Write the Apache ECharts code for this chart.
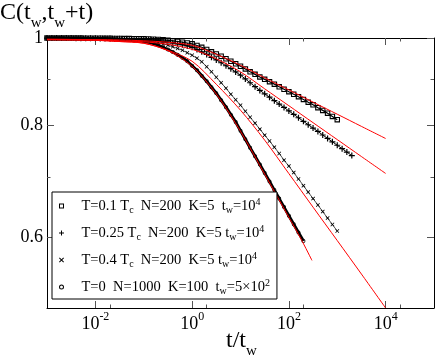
<!DOCTYPE html>
<html>
<head>
<meta charset="utf-8">
<script src="https://cdn.jsdelivr.net/npm/echarts@6/dist/echarts.min.js"></script>
<style>
  html, body { margin: 0; padding: 0; background: #fff; }
  #chart { width: 436px; height: 361px; }
</style>
</head>
<body>
<div id="chart"></div>
<script>
// t/t_w sample times, shared by the four data sets
const times = [
  0.001, 0.00126, 0.00158, 0.002, 0.00251, 0.00316, 0.00398, 0.00501, 0.00631, 0.00794,
  0.01, 0.0126, 0.0158, 0.02, 0.0251, 0.0316, 0.0398, 0.0501, 0.0631, 0.0794,
  0.1, 0.126, 0.158, 0.2, 0.251, 0.316, 0.398, 0.501, 0.631, 0.794,
  1, 1.26, 1.58, 2, 2.51, 3.16, 3.98, 5.01, 6.31, 7.94,
  10, 12.6, 15.8, 20, 25.1, 31.6, 39.8, 50.1, 63.1, 79.4,
  100, 126, 158, 200, 251, 316, 398, 501, 631, 794,
  1000, 1260, 1580, 2000
];

// T=0.1 Tc (squares)
const c01 = [
  0.9999, 0.9999, 0.9999, 0.9998, 0.9998, 0.9998, 0.9997, 0.9997, 0.9996, 0.9995,
  0.9994, 0.9993, 0.9992, 0.9991, 0.999, 0.9988, 0.9986, 0.9985, 0.9983, 0.9981,
  0.9979, 0.9974, 0.9969, 0.9962, 0.9954, 0.9941, 0.9928, 0.9911, 0.9893, 0.9873,
  0.9852, 0.9809, 0.9764, 0.9709, 0.9652, 0.9598, 0.9542, 0.9481, 0.942, 0.936,
  0.93, 0.9236, 0.917, 0.9109, 0.9048, 0.8993, 0.8939, 0.8883, 0.8824, 0.8767,
  0.8712, 0.8655, 0.8601, 0.8541, 0.8481, 0.8424, 0.8362, 0.8304, 0.8244, 0.8177,
  0.8108
];
// T=0.25 Tc (plus)
const c025 = [
  0.9999, 0.9999, 0.9998, 0.9998, 0.9997, 0.9997, 0.9996, 0.9995, 0.9994, 0.9993,
  0.9992, 0.999, 0.9988, 0.9986, 0.9983, 0.998, 0.9977, 0.9975, 0.9972, 0.997,
  0.9967, 0.9956, 0.9946, 0.9934, 0.9916, 0.9898, 0.9878, 0.9852, 0.9827, 0.9797,
  0.9764, 0.9709, 0.9652, 0.9586, 0.9517, 0.9452, 0.9384, 0.9312, 0.9242, 0.9166,
  0.9089, 0.9002, 0.8915, 0.8826, 0.8741, 0.8665, 0.859, 0.8514, 0.844, 0.8368,
  0.8292, 0.822, 0.8149, 0.8074, 0.8004, 0.7935, 0.7868, 0.7796, 0.7728, 0.7661,
  0.7593, 0.7527, 0.7462, 0.7395
];
// T=0.4 Tc (cross)
const c04 = [
  0.9998, 0.9998, 0.9997, 0.9997, 0.9996, 0.9995, 0.9994, 0.9993, 0.9991, 0.9989,
  0.9987, 0.9984, 0.9981, 0.9977, 0.9973, 0.9968, 0.9963, 0.9957, 0.995, 0.9946,
  0.9941, 0.9923, 0.9903, 0.9879, 0.9852, 0.9816, 0.9777, 0.9735, 0.969, 0.963,
  0.9566, 0.9493, 0.9408, 0.9288, 0.917, 0.9041, 0.8915, 0.879, 0.8656, 0.8535,
  0.8414, 0.8286, 0.816, 0.8036, 0.7914, 0.7792, 0.7676, 0.7556, 0.7435, 0.7308,
  0.7197, 0.7078, 0.6964, 0.6845, 0.6733, 0.6621, 0.6513, 0.6404, 0.6298, 0.6195,
  0.6092
];
// T=0, N=1000 (circles)
const c0 = [
  0.9998, 0.9998, 0.9997, 0.9997, 0.9996, 0.9995, 0.9994, 0.9992, 0.999, 0.9988,
  0.9985, 0.9982, 0.9978, 0.9974, 0.9969, 0.9963, 0.9956, 0.9948, 0.9938, 0.9928,
  0.992, 0.9896, 0.9865, 0.9815, 0.9764, 0.9709, 0.9647, 0.9578, 0.9505, 0.942,
  0.9312, 0.9205, 0.9076, 0.895, 0.8812, 0.8678, 0.8524, 0.8373, 0.8213, 0.8061,
  0.7882, 0.7713, 0.7546, 0.7383, 0.7225, 0.7069, 0.6917, 0.6767, 0.6621, 0.6478,
  0.6338, 0.6201, 0.6068, 0.5937
];

// red fit curves
const fitTimes = [0.001, 0.01, 0.0316, 0.1, 0.316, 1, 3.16, 10, 31.6, 100, 316, 1000, 3162, 10000];
const fit01 = [0.9967, 0.9959, 0.995, 0.9928, 0.989, 0.9815, 0.9591, 0.9324, 0.9028, 0.8752, 0.8482, 0.8223, 0.797, 0.7726];
const fit025 = [0.9967, 0.9954, 0.993, 0.9903, 0.984, 0.9714, 0.948, 0.9168, 0.8777, 0.8404, 0.8046, 0.7704, 0.7376, 0.7063];
const fit04 = [0.9954, 0.9941, 0.991, 0.9865, 0.969, 0.942, 0.888, 0.8308, 0.7693, 0.706, 0.6477, 0.5945, 0.5455, 0.5];
const fitTimes0 = [0.001, 0.01, 0.0316, 0.1, 0.316, 1, 3.16, 10, 31.6, 100, 178, 300];
const fit0 = [0.996, 0.994, 0.991, 0.987, 0.968, 0.93, 0.866, 0.787, 0.705, 0.631, 0.597, 0.565];

const xMajor = [0.01, 1, 100, 10000];
const xMinor = [0.02, 2, 200, 20000];
const yMajor = [0.6, 0.8, 1];
const yMinor = [0.7, 0.9];

const legendNames = ['T=0.1 Tc', 'T=0.25 Tc', 'T=0.4 Tc', 'T=0'];
const legendRich = {
  'T=0.1 Tc': '{p| }{n|T=0.1 T}{s|c}{n|  N=200  K=5  t}{s|w}{n|=10}{u|4}',
  'T=0.25 Tc': '{p| }{n|T=0.25 T}{s|c}{n|  N=200  K=5 t}{s|w}{n|=10}{u|4}',
  'T=0.4 Tc': '{p| }{n|T=0.4 T}{s|c}{n|  N=200  K=5 t}{s|w}{n|=10}{u|4}',
  'T=0': '{p| }{n|T=0  N=1000  K=100  t}{s|w}{n|=5\u00d710}{u|2}'
};

const SQUARE = 'path://M0,0H10V10H0ZM2,2V8H8V2Z';
const PLUS = 'path://M4,0H6V4H10V6H6V10H4V6H0V4H4Z';
const CROSS = 'path://M0,1.4L1.4,0L5,3.6L8.6,0L10,1.4L6.4,5L10,8.6L8.6,10L5,6.4L1.4,10L0,8.6L3.6,5Z';
const RING = 'path://M0,5A5,5,0,1,1,10,5A5,5,0,1,1,0,5ZM2,5A3,3,0,1,0,8,5A3,3,0,1,0,2,5Z';

const FONT = "'Liberation Serif', 'Times New Roman', 'DejaVu Serif', serif";

function pair(ts, vs) {
  return vs.map((v, i) => [ts[i], v]);
}

function xAxisDef(position, ticks, len, withLabels) {
  return {
    type: 'log', logBase: 10, min: 0.001, max: 100000, position: position,
    axisLine: { show: withLabels !== null, lineStyle: { color: '#000', width: 1 } },
    axisTick: { show: true, inside: true, length: len, customValues: ticks, lineStyle: { color: '#555' } },
    axisLabel: withLabels ? {
      show: true, margin: 3, customValues: ticks,
      formatter: v => '{b|10}{e|' + Math.round(Math.log10(v)) + '}',
      rich: {
        b: { fontFamily: FONT, fontSize: 18, color: '#000', lineHeight: 22, verticalAlign: 'bottom' },
        e: { fontFamily: FONT, fontSize: 12, color: '#000', lineHeight: 12, verticalAlign: 'top' }
      }
    } : { show: false },
    splitLine: { show: false }, minorTick: { show: false }
  };
}

function yAxisDef(position, ticks, len, withLabels) {
  return {
    type: 'log', logBase: 10, min: 0.5, max: 1, position: position,
    axisLine: { show: withLabels !== null, lineStyle: { color: '#000', width: 1 } },
    axisTick: { show: true, inside: true, length: len, customValues: ticks, lineStyle: { color: '#555' } },
    axisLabel: withLabels ? {
      show: true, margin: 4, customValues: ticks,
      fontFamily: FONT, fontSize: 18, color: '#000',
      formatter: v => (v === 1 ? '1' : v.toFixed(1))
    } : { show: false },
    splitLine: { show: false }, minorTick: { show: false }
  };
}

function dataSeries(name, vals, symbol, size, lw) {
  return {
    name: name, type: 'line', xAxisIndex: 0, yAxisIndex: 0,
    data: pair(times, vals),
    symbol: symbol, symbolSize: size, showAllSymbol: true,
    itemStyle: { color: '#000' },
    lineStyle: { color: '#000', width: lw },
    z: 2
  };
}

function fitSeries(ts, vals) {
  return {
    type: 'line', xAxisIndex: 0, yAxisIndex: 0,
    data: pair(ts, vals),
    symbol: 'none', smooth: 0.3,
    lineStyle: { color: '#ff0000', width: 1 },
    z: 3
  };
}

const chart = echarts.init(document.getElementById('chart'), null, { renderer: 'canvas' });

chart.setOption({
  animation: false,
  backgroundColor: '#fff',
  grid: { left: 47, top: 38, width: 387, height: 270, containLabel: false },
  xAxis: [
    xAxisDef('bottom', xMajor, 7, true),
    xAxisDef('bottom', xMinor, 3.5, null),
    xAxisDef('top', xMajor, 7, false),
    xAxisDef('top', xMinor, 3.5, null)
  ],
  yAxis: [
    yAxisDef('left', yMajor, 7, true),
    yAxisDef('left', yMinor, 3.5, null),
    yAxisDef('right', yMajor, 7, false),
    yAxisDef('right', yMinor, 3.5, null)
  ],
  legend: {
    orient: 'vertical', left: 52, top: 192,
    padding: [5, 7, 3, 7], itemGap: 9,
    itemWidth: 22, itemHeight: 5,
    borderColor: '#000', borderWidth: 1, backgroundColor: '#fff',
    selectedMode: false,
    data: [
      { name: legendNames[0], icon: SQUARE },
      { name: legendNames[1], icon: PLUS },
      { name: legendNames[2], icon: CROSS },
      { name: legendNames[3], icon: RING }
    ],
    formatter: name => legendRich[name],
    textStyle: {
      fontFamily: FONT, fontSize: 14.5, color: '#000',
      rich: {
        p: { width: 4, fontSize: 14.5, lineHeight: 18 },
        n: { fontFamily: FONT, fontSize: 14.5, color: '#000', lineHeight: 18 },
        s: { fontFamily: FONT, fontSize: 10, color: '#000', lineHeight: 10, verticalAlign: 'bottom' },
        u: { fontFamily: FONT, fontSize: 10, color: '#000', lineHeight: 10, verticalAlign: 'top' }
      }
    }
  },
  graphic: [
    {
      type: 'text', left: 0, top: 1,
      style: {
        text: '{n|C(t}{s|w}{n|,t}{s|w}{n|+t)}',
        rich: {
          n: { fontFamily: FONT, fontSize: 24, fill: '#000', lineHeight: 26 },
          s: { fontFamily: FONT, fontSize: 15, fill: '#000', lineHeight: 14, verticalAlign: 'bottom', padding: [0, 0, -5, 0] }
        }
      }
    },
    {
      type: 'text', left: 226, top: 329,
      style: {
        text: '{n|t/t}{s|w}',
        rich: {
          n: { fontFamily: FONT, fontSize: 24, fill: '#000', lineHeight: 26 },
          s: { fontFamily: FONT, fontSize: 15, fill: '#000', lineHeight: 14, verticalAlign: 'bottom', padding: [0, 0, -5, 0] }
        }
      }
    }
  ],
  series: [
    dataSeries(legendNames[0], c01, SQUARE, 5.5, 1.2),
    dataSeries(legendNames[1], c025, PLUS, 6, 1),
    dataSeries(legendNames[2], c04, CROSS, 4, 0.7),
    dataSeries(legendNames[3], c0, RING, 4, 3),
    fitSeries(fitTimes, fit01),
    fitSeries(fitTimes, fit025),
    fitSeries(fitTimes, fit04),
    fitSeries(fitTimes0, fit0)
  ]
});
</script>
</body>
</html>
